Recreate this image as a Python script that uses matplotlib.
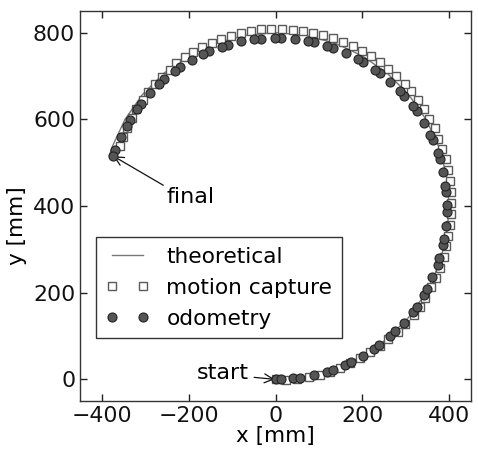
import matplotlib
matplotlib.use("Agg")
import matplotlib.pyplot as plt

# theoretical path (circle arc)
theo_x = [0, 69.5, 136.8, 200, 257.1, 306.4, 346.4, 375.9, 393.9, 400, 393.9, 375.9, 346.4,
          306.4, 257.1, 200, 136.8, 69.5, 0, -69.5, -136.8, -200, -257.1, -306.4, -346.4,
          -375.9, -382.5]
theo_y = [0, 6.1, 24.1, 53.6, 93.6, 142.9, 200, 263.2, 330.5, 400, 469.5, 536.8, 600,
          657.1, 706.4, 746.4, 775.9, 793.9, 800, 793.9, 775.9, 746.4, 706.4, 657.1, 600,
          536.8, 517.0]

# motion capture
mocap_x = [0, 25, 50, 77, 102, 126, 149, 172, 195, 218, 241, 260, 281, 299, 318, 332, 345,
           358, 370, 379, 387, 393, 398, 402, 404, 405, 404, 401, 397, 392, 384, 375, 366,
           354, 341, 327, 312, 297, 278, 259, 240, 220, 200, 178, 156, 133, 110, 86, 63, 40,
           15, -10, -34, -57, -80, -103, -125, -147, -169, -189, -209, -228, -244, -261,
           -278, -293, -306, -320, -331, -341, -350, -357]
mocap_y = [0, -1, 1, 5, 11, 18, 27, 38, 50, 63, 77, 93, 109, 128, 148, 168, 188, 212, 235,
           256, 282, 307, 331, 357, 382, 408, 433, 457, 482, 508, 532, 555, 579, 600, 623,
           644, 665, 682, 700, 716, 732, 746, 758, 769, 778, 788, 794, 799, 803, 807, 809,
           809, 808, 804, 799, 793, 786, 777, 767, 755, 744, 730, 715, 698, 681, 662, 644,
           623, 603, 581, 560, 538]

# odometry
odo_x = [2, 13, 41, 57, 88, 119, 132, 161, 174, 202, 226, 239, 264, 275, 296, 316, 325, 341,
         349, 361, 373, 377, 385, 388, 392, 395, 395, 392, 391, 385, 378, 373, 362, 356, 342,
         326, 316, 296, 286, 264, 240, 228, 202, 189, 162, 133, 118, 88, 74, 44, 12, -2, -34,
         -49, -79, -109, -123, -152, -166, -193, -220, -231, -257, -268, -290, -309, -318,
         -335, -342, -356, -370, -374]
odo_y = [0, 0, 2, 4, 9, 18, 21, 34, 40, 55, 71, 80, 101, 111, 131, 156, 168, 195, 209, 236,
         265, 280, 309, 325, 355, 386, 402, 432, 447, 478, 508, 522, 552, 565, 592, 619, 630,
         653, 665, 687, 707, 715, 732, 739, 754, 765, 769, 778, 781, 785, 788, 788, 786, 785,
         780, 772, 768, 757, 750, 736, 721, 712, 692, 682, 661, 636, 625, 599, 585, 559, 530,
         515]

x_ticks = [-400, -200, 0, 200, 400]
y_ticks = [0, 200, 400, 600, 800]

plt.rcParams['font.family'] = ['DejaVu Sans']
fig = plt.figure(figsize=(4.78, 4.49), dpi=100)
ax = fig.add_axes([0.1674, 0.1069, 0.818, 0.8686])

ax.plot(theo_x, theo_y, '-', color='#777777', lw=1.0, label='theoretical', zorder=2)
ax.plot(mocap_x, mocap_y, 's', ms=6, mfc='white', mec='#5a5a5a', mew=1.0,
        label='motion capture', zorder=3)
ax.plot(odo_x, odo_y, 'o', ms=6.5, mfc='#555555', mec='#222222', mew=0.8,
        label='odometry', zorder=4)

ax.set_xlim(-450, 450)
ax.set_ylim(-50, 850)
ax.set_xticks(x_ticks)
ax.set_yticks(y_ticks)
ax.tick_params(direction='in', length=5, width=1, labelsize=15.8, top=True, right=True,
               colors='#222222', labelcolor='#111111')
for s in ax.spines.values():
    s.set_color('#333333')
    s.set_linewidth(1.0)

ax.set_xlabel('x [mm]', fontsize=15.5, labelpad=0)
ax.set_ylabel('y [mm]', fontsize=15.5)
ax.yaxis.set_label_coords(-0.135, 0.45)

ax.annotate('final', xy=(-373, 515), xytext=(-252, 398), fontsize=16,
            ha='left', va='bottom',
            arrowprops=dict(arrowstyle='->', color='#111111', lw=0.9,
                            shrinkA=0, shrinkB=0, relpos=(0, 1)))
ax.annotate('start', xy=(-2, 0), xytext=(-62, 15), fontsize=16,
            ha='right', va='center',
            arrowprops=dict(arrowstyle='->', color='#111111', lw=0.9,
                            shrinkA=2, shrinkB=0, relpos=(1, 0.3)))

leg = ax.legend(loc='upper left', bbox_to_anchor=(0.041, 0.42), borderaxespad=0,
                fontsize=15.6, numpoints=2, handlelength=2.0, handletextpad=0.8,
                fancybox=False, framealpha=1, edgecolor='#333333', borderpad=0.45,
                labelspacing=0.5)
leg.get_frame().set_linewidth(1.0)

fig.savefig('out.png', dpi=100)
